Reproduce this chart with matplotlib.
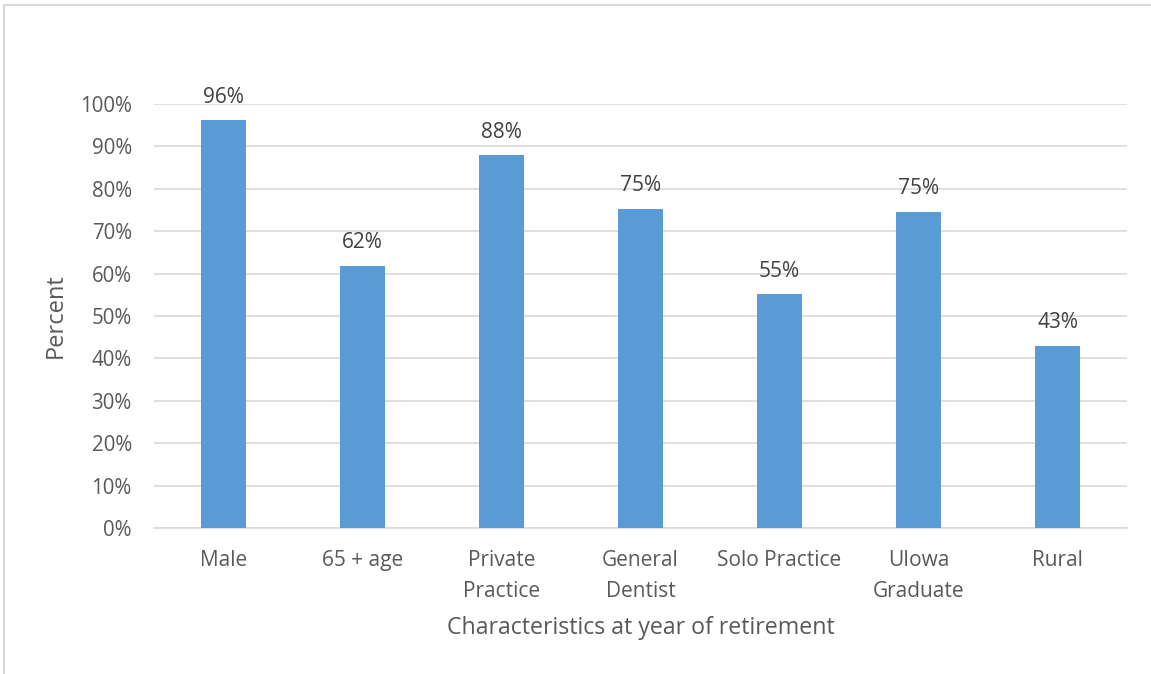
import matplotlib
matplotlib.use("Agg")
import matplotlib.pyplot as plt
from matplotlib.patches import Rectangle
from matplotlib.ticker import FuncFormatter

categories = ["Male", "65 + age", "Private\nPractice", "General\nDentist",
              "Solo Practice", "UIowa\nGraduate", "Rural"]
values = [96.2, 61.9, 87.9, 75.3, 55.1, 74.6, 43.0]
labels = ["96%", "62%", "88%", "75%", "55%", "75%", "43%"]

plt.rcParams['font.family'] = ['Open Sans', 'DejaVu Sans']
txt = '#595959'
W, H = 1151, 674
fig = plt.figure(figsize=(W/100, H/100), dpi=100)
ax = fig.add_axes([154/W, 1-528/H, (1127-154)/W, (528-104)/H])

x = range(len(categories))
ax.bar(x, values, width=0.32, color='#5B9BD5', zorder=3)
for xi, v, lab in zip(x, values, labels):
    ax.text(xi, v + 2.9, lab, ha='center', va='bottom', fontsize=15, color='#404040')

ax.set_xlim(-0.5, len(categories)-0.5)
ax.set_ylim(0, 100)
ax.set_yticks(range(0, 101, 10))
ax.yaxis.set_major_formatter(FuncFormatter(lambda v, p: f"{int(v)}%"))
ax.set_xticks(list(x))
ax.set_xticklabels(categories, linespacing=1.6)
ax.tick_params(axis='both', length=0, labelcolor=txt)
ax.tick_params(axis='x', pad=16, labelsize=15)
ax.tick_params(axis='y', pad=16, labelsize=14.8)
ax.grid(axis='y', color='#D9D9D9', linewidth=1.2, zorder=0)
for s in ['top', 'right', 'left']:
    ax.spines[s].set_visible(False)
ax.spines['bottom'].set_color('#D9D9D9')
ax.spines['bottom'].set_linewidth(1.2)

ax.set_ylabel("Percent", fontsize=17, color=txt, labelpad=9)
ax.set_xlabel("Characteristics at year of retirement", fontsize=16.7, color=txt, labelpad=10)

fig.patches.append(Rectangle((4/W, -0.1), 1.2, 1.1 - 5/H, transform=fig.transFigure,
                             fill=False, edgecolor='#D9D9D9', linewidth=1.5))

fig.savefig("out.png", dpi=100)
